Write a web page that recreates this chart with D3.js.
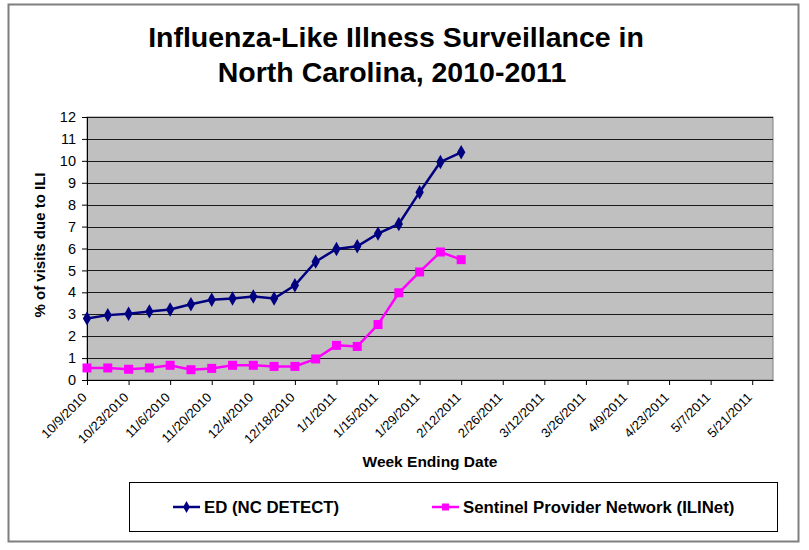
<!DOCTYPE html>
<html>
<head>
<meta charset="utf-8">
<script src="https://cdn.jsdelivr.net/npm/d3@7"></script>
<style>
  body { margin: 0; background: #fff; }
  text { font-family: "Liberation Sans", Arial, sans-serif; }
</style>
</head>
<body>
<div id="chart"></div>
<script>
const width = 809, height = 550;

// weekly categories (week ending date)
const weeks = [
  "10/9/2010", "10/16/2010", "10/23/2010", "10/30/2010", "11/6/2010", "11/13/2010",
  "11/20/2010", "11/27/2010", "12/4/2010", "12/11/2010", "12/18/2010", "12/25/2010",
  "1/1/2011", "1/8/2011", "1/15/2011", "1/22/2011", "1/29/2011", "2/5/2011",
  "2/12/2011", "2/19/2011", "2/26/2011", "3/5/2011", "3/12/2011", "3/19/2011",
  "3/26/2011", "4/2/2011", "4/9/2011", "4/16/2011", "4/23/2011", "4/30/2011",
  "5/7/2011", "5/14/2011", "5/21/2011", "5/28/2011"
];

// % of visits due to ILI
const edValues = [2.81, 2.96, 3.02, 3.13, 3.22, 3.46, 3.66, 3.72, 3.81, 3.72,
  4.32, 5.40, 5.98, 6.10, 6.68, 7.12, 8.57, 9.95, 10.39];
const sentinelValues = [0.55, 0.55, 0.49, 0.55, 0.67, 0.47, 0.53, 0.67, 0.67, 0.62,
  0.62, 0.96, 1.58, 1.53, 2.53, 3.98, 4.93, 5.84, 5.49];

const yTicks = [0, 1, 2, 3, 4, 5, 6, 7, 8, 9, 10, 11, 12];
const seriesNames = ["ED (NC DETECT)", "Sentinel Provider Network (ILINet)"];

const plot = { left: 87, right: 773, top: 117, bottom: 380 };

const svg = d3.select("#chart")
  .append("svg")
  .attr("width", width)
  .attr("height", height);

// outer chart frame
svg.append("rect")
  .attr("x", 8.5).attr("y", 4.5)
  .attr("width", 790).attr("height", 537)
  .attr("fill", "#fff")
  .attr("stroke", "#7f7f7f")
  .attr("stroke-width", 2);

// title
const title = svg.append("text")
  .attr("text-anchor", "middle")
  .attr("font-size", "28.5px")
  .attr("font-weight", "bold")
  .attr("fill", "#000");
title.append("tspan").attr("x", 396).attr("y", 47).text("Influenza-Like Illness Surveillance in");
title.append("tspan").attr("x", 392).attr("y", 82).text("North Carolina, 2010-2011");

const x = d3.scalePoint()
  .domain(weeks)
  .range([plot.left, plot.right]);

const y = d3.scaleLinear()
  .domain([0, 12])
  .range([plot.bottom, plot.top]);

// plot background
svg.append("rect")
  .attr("x", plot.left).attr("y", plot.top)
  .attr("width", plot.right - plot.left)
  .attr("height", plot.bottom - plot.top)
  .attr("fill", "#c0c0c0")
  .attr("stroke", "#808080")
  .attr("stroke-width", 1);

// gridlines
svg.append("g")
  .selectAll("line")
  .data(yTicks.filter(d => d > 0))
  .join("line")
    .attr("x1", plot.left).attr("x2", plot.right)
    .attr("y1", d => Math.round(y(d)) + 0.5)
    .attr("y2", d => Math.round(y(d)) + 0.5)
    .attr("stroke", "#1a1a1a")
    .attr("stroke-width", 1);

// y axis
const yAxis = svg.append("g")
  .attr("transform", `translate(${plot.left},0)`)
  .call(d3.axisLeft(y).tickValues(yTicks).tickSize(5).tickPadding(6).tickFormat(d3.format("d")));
yAxis.select(".domain").attr("stroke", "#000");
yAxis.selectAll(".tick line").attr("stroke", "#000");
yAxis.selectAll("text")
  .attr("font-size", "14.5px")
  .attr("fill", "#000")
  .style("font-family", "'Liberation Sans', Arial, sans-serif");

// x axis
const xAxis = svg.append("g")
  .attr("transform", `translate(0,${plot.bottom})`)
  .call(d3.axisBottom(x).tickValues(weeks.filter((d, i) => i % 2 === 0)).tickSize(5).tickSizeOuter(0));
xAxis.select(".domain").attr("stroke", "#000");
xAxis.selectAll(".tick line").attr("stroke", "#000");
xAxis.selectAll("text")
  .attr("font-size", "13px")
  .attr("fill", "#000")
  .attr("text-anchor", "end")
  .attr("dy", "0.35em")
  .attr("transform", "translate(-3,15) rotate(-45)")
  .attr("y", 0)
  .style("font-family", "'Liberation Sans', Arial, sans-serif");

// axis titles
svg.append("text")
  .attr("x", 430).attr("y", 467)
  .attr("text-anchor", "middle")
  .attr("font-size", "15.5px")
  .attr("font-weight", "bold")
  .text("Week Ending Date");

svg.append("text")
  .attr("transform", "translate(45,245) rotate(-90)")
  .attr("text-anchor", "middle")
  .attr("font-size", "15px")
  .attr("font-weight", "bold")
  .text("% of visits due to ILI");

// lines
const line = d3.line()
  .x((d, i) => x(weeks[i]))
  .y(d => y(d));

const edColor = "#000080", senColor = "#ff00ff";

svg.append("path")
  .datum(edValues)
  .attr("d", line)
  .attr("fill", "none")
  .attr("stroke", edColor)
  .attr("stroke-width", 2.5);

svg.append("path")
  .datum(sentinelValues)
  .attr("d", line)
  .attr("fill", "none")
  .attr("stroke", senColor)
  .attr("stroke-width", 2.5);

// markers
const diamond = d3.symbol().type(d3.symbolDiamond).size(60);

svg.append("g")
  .selectAll("path")
  .data(edValues)
  .join("path")
    .attr("d", diamond)
    .attr("transform", (d, i) => `translate(${x(weeks[i])},${y(d)})`)
    .attr("fill", edColor);

svg.append("g")
  .selectAll("rect")
  .data(sentinelValues)
  .join("rect")
    .attr("x", (d, i) => x(weeks[i]) - 4.5)
    .attr("y", d => y(d) - 4.5)
    .attr("width", 9).attr("height", 9)
    .attr("fill", senColor);

// legend
const legend = svg.append("g");
legend.append("rect")
  .attr("x", 129.5).attr("y", 482.5)
  .attr("width", 648).attr("height", 49)
  .attr("fill", "#fff")
  .attr("stroke", "#000")
  .attr("stroke-width", 1);

const legendItems = [
  { name: seriesNames[0], color: edColor, x: 173, shape: "diamond" },
  { name: seriesNames[1], color: senColor, x: 432, shape: "square" }
];

legendItems.forEach(item => {
  const g = legend.append("g").attr("transform", `translate(${item.x},507)`);
  g.append("line")
    .attr("x1", 0).attr("x2", 27)
    .attr("stroke", item.color)
    .attr("stroke-width", 2.5);
  if (item.shape === "diamond") {
    g.append("path")
      .attr("d", d3.symbol().type(d3.symbolDiamond).size(40))
      .attr("transform", "translate(13.5,0)")
      .attr("fill", item.color);
  } else {
    g.append("rect")
      .attr("x", 10).attr("y", -3.5)
      .attr("width", 7).attr("height", 7)
      .attr("fill", item.color);
  }
  g.append("text")
    .attr("x", 31).attr("y", 6)
    .attr("font-size", "16.8px")
    .attr("font-weight", "bold")
    .text(item.name);
});
</script>
</body>
</html>
